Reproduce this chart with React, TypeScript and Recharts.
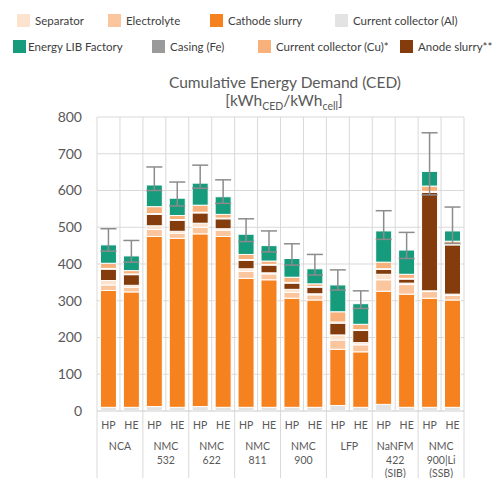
import {
    Bar,
    BarChart,
    CartesianGrid,
    ErrorBar,
    XAxis,
    YAxis
} from 'recharts'

// one entry per bar, left to right
const cells = ['HP', 'HE', 'HP', 'HE', 'HP', 'HE', 'HP', 'HE', 'HP', 'HE', 'HP', 'HE', 'HP', 'HE', 'HP', 'HE']
const groups = [
    ['NCA'],
    ['NMC', '532'],
    ['NMC', '622'],
    ['NMC', '811'],
    ['NMC', '900'],
    ['LFP'],
    ['NaNFM', '422', '(SIB)'],
    ['NMC', '900|Li', '(SSB)'],
]

const currentAl = [10, 10, 12, 10, 12, 10, 10, 10, 10, 10, 15, 10, 18, 10, 10, 10]
const cathode = [318, 314, 463, 460, 470, 465, 351, 347, 297, 292, 153, 151, 308, 308, 297, 292]
const electrolyte = [15, 13, 19, 14, 18, 17, 19, 16, 16, 14, 25, 19, 31, 26, 18, 13]
const separator = [12, 5, 10, 5, 11, 4, 7, 3, 8, 3, 14, 6, 15, 4, 2, 3]
const anode = [31, 29, 31, 30, 28, 27, 23, 21, 17, 18, 32, 33, 13, 11, 268, 134]
const casing = [2, 2, 2, 2, 2, 2, 2, 2, 2, 2, 3, 2, 2, 2, 2, 2]
const currentCu = [14, 9, 19, 11, 19, 10, 14, 9, 14, 7, 28, 15, 18, 11, 15, 8]
const energy = [50, 40, 59, 47, 60, 48, 55, 42, 51, 41, 73, 56, 85, 66, 40, 28]
const errLow = [17, 17, 15, 21, 14, 18, 20, 17, 18, 17, 14, 13, 23, 23, 64, 34]
const errHigh = [44, 42, 49, 44, 49, 46, 42, 40, 40, 39, 41, 35, 55, 48, 105, 65]

const yTicks = [0, 100, 200, 300, 400, 500, 600, 700, 800]

const data = cells.map((cell, i) => ({
    key: `b${i}`,
    cell,
    al: currentAl[i],
    cathode: cathode[i],
    electrolyte: electrolyte[i],
    separator: separator[i],
    anode: anode[i],
    casing: casing[i],
    cu: currentCu[i],
    energy: energy[i],
    err: [errLow[i], errHigh[i]],
}))

const C = {
    separator: '#fde2cd',
    electrolyte: '#fbc59d',
    cathode: '#f5821f',
    al: '#e3e3e3',
    energy: '#169b7c',
    casing: '#9a9a9a',
    cu: '#f9b17b',
    anode: '#843c0c',
}

const legendRows = [
    [
        { label: 'Separator', color: C.separator, x: 17 },
        { label: 'Electrolyte', color: C.electrolyte, x: 108 },
        { label: 'Cathode slurry', color: C.cathode, x: 210 },
        { label: 'Current collector (Al)', color: C.al, x: 335 },
    ],
    [
        { label: 'Energy LIB Factory', color: C.energy, x: 13 },
        { label: 'Casing (Fe)', color: C.casing, x: 152 },
        { label: 'Current collector (Cu)*', color: C.cu, x: 258 },
        { label: 'Anode slurry**', color: C.anode, x: 400 },
    ],
]

const W = 504
const H = 478
const LEFT = 97
const RIGHT = 40
const PLOT_W = W - LEFT - RIGHT
const SLOT = PLOT_W / cells.length
const font = 'Lato, "Open Sans", sans-serif'
const grey = '#595959'

function ChartLegend() {
    return (
        <div style={{ position: 'absolute', left: 0, top: 0, width: W, height: 60, fontFamily: font, fontSize: 11.5, color: '#404040' }}>
            {legendRows.map((row, r) =>
                row.map((it) => (
                    <div
                        key={it.label}
                        style={{ position: 'absolute', left: it.x, top: 14 + r * 26, display: 'flex', alignItems: 'center', whiteSpace: 'nowrap' }}
                    >
                        <span style={{ width: 13, height: 13, background: it.color, display: 'inline-block', marginRight: r === 1 && it.x === 13 ? 2 : 5 }} />
                        {it.label}
                    </div>
                ))
            )}
        </div>
    )
}

function CellTick(props: any) {
    const { x, y, payload, index } = props
    const i = payload?.index ?? index
    const g = Math.floor(i / 2)
    return (
        <g>
            <text x={x} y={y + 18} textAnchor="middle" fontSize={10.5} fill={grey} fontFamily={font}>
                {cells[i]}
            </text>
            {i % 2 === 0 && (
                <>
                    <line x1={x - SLOT / 2} x2={x - SLOT / 2} y1={y} y2={H} stroke="#d9d9d9" />
                    {groups[g].map((t, k) => (
                        <text key={k} x={x + SLOT / 2} y={y + 39 + k * 13.5} textAnchor="middle" fontSize={10.5} fill={grey} fontFamily={font}>
                            {t}
                        </text>
                    ))}
                </>
            )}
            {i === cells.length - 1 && <line x1={x + SLOT / 2} x2={x + SLOT / 2} y1={y} y2={H} stroke="#d9d9d9" />}
        </g>
    )
}

export default function App() {
    return (
        <div style={{ position: 'absolute', left: 0, top: 0, width: W, height: H, background: '#fff' }}>
            <BarChart
                width={W}
                height={H}
                data={data}
                margin={{ top: 117, right: RIGHT, left: 20, bottom: 0 }}
                barCategoryGap="15%"
            >
                <text x={285} y={88} textAnchor="middle" fontSize={15.5} fill={grey} fontFamily={font}>
                    Cumulative Energy Demand (CED)
                </text>
                <text x={284} y={106} textAnchor="middle" fontSize={15.5} fill={grey} fontFamily={font}>
                    [kWh
                    <tspan fontSize={10.5} dy={4}>CED</tspan>
                    <tspan dy={-4}>/kWh</tspan>
                    <tspan fontSize={10.5} dy={4}>cell</tspan>
                    <tspan dy={-4}>]</tspan>
                </text>
                <CartesianGrid
                    stroke="#d9d9d9"
                    verticalCoordinatesGenerator={({ offset }: any) =>
                        Array.from({ length: cells.length + 1 }, (_, i) => offset.left + (i * offset.width) / cells.length)
                    }
                />
                <XAxis
                    dataKey="key"
                    height={67}
                    interval={0}
                    tickLine={false}
                    tickSize={0}
                    tickMargin={0}
                    axisLine={{ stroke: '#d9d9d9' }}
                    tick={<CellTick />}
                />
                <YAxis
                    width={77}
                    domain={[0, 800]}
                    ticks={yTicks}
                    axisLine={false}
                    tickLine={false}
                    tickSize={0}
                    tickMargin={15}
                    tick={{ fill: grey, fontSize: 14, fontFamily: font }}
                />
                <Bar dataKey="al" stackId="s" fill={C.al} stroke="#fff" isAnimationActive={false} />
                <Bar dataKey="cathode" stackId="s" fill={C.cathode} stroke="#fff" isAnimationActive={false} />
                <Bar dataKey="electrolyte" stackId="s" fill={C.electrolyte} stroke="#fff" isAnimationActive={false} />
                <Bar dataKey="separator" stackId="s" fill={C.separator} stroke="#fff" isAnimationActive={false} />
                <Bar dataKey="anode" stackId="s" fill={C.anode} stroke="#fff" isAnimationActive={false} />
                <Bar dataKey="casing" stackId="s" fill={C.casing} stroke="#fff" isAnimationActive={false} />
                <Bar dataKey="cu" stackId="s" fill={C.cu} stroke="#fff" isAnimationActive={false} />
                <Bar dataKey="energy" stackId="s" fill={C.energy} stroke="#fff" isAnimationActive={false}>
                    <ErrorBar dataKey="err" width={8} stroke="#8c8c8c" strokeWidth={1.5} isAnimationActive={false} />
                </Bar>
            </BarChart>
            <ChartLegend />
        </div>
    )
}
